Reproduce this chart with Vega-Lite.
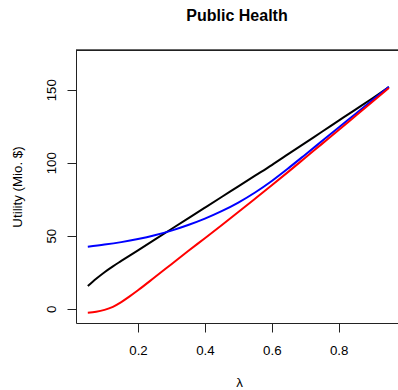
{
  "$schema": "https://vega.github.io/schema/vega-lite/v6.json",
  "width": 322,
  "height": 273,
  "autosize": {"type": "none"},
  "padding": {"left": 76, "top": 50, "right": 0, "bottom": 67},
  "background": "white",
  "config": {
    "view": {"stroke": null},
    "font": "Liberation Sans",
    "axis": {"grid": false, "domainColor": "#222222", "tickColor": "#222222", "labelColor": "black", "titleColor": "black", "labelFont": "Liberation Sans", "titleFont": "Liberation Sans", "labelFontSize": 13.3, "titleFontSize": 13.3, "titleFontWeight": "normal", "tickSize": 9, "domainWidth": 1, "tickWidth": 1}
  },
  "title": {"text": "Public Health", "font": "Liberation Sans", "fontSize": 16, "fontWeight": "bold", "color": "black", "anchor": "middle", "offset": 26},
  "data": {"values": [
    {"lambda": 0.05, "utility": 15.5, "series": "black"},
    {"lambda": 0.075, "utility": 20.5, "series": "black"},
    {"lambda": 0.1, "utility": 25.0, "series": "black"},
    {"lambda": 0.125, "utility": 29.0, "series": "black"},
    {"lambda": 0.15, "utility": 32.7, "series": "black"},
    {"lambda": 0.2, "utility": 40.0, "series": "black"},
    {"lambda": 0.25, "utility": 47.3, "series": "black"},
    {"lambda": 0.3, "utility": 54.6, "series": "black"},
    {"lambda": 0.35, "utility": 61.9, "series": "black"},
    {"lambda": 0.4, "utility": 69.2, "series": "black"},
    {"lambda": 0.45, "utility": 76.5, "series": "black"},
    {"lambda": 0.5, "utility": 83.8, "series": "black"},
    {"lambda": 0.55, "utility": 91.1, "series": "black"},
    {"lambda": 0.6, "utility": 98.4, "series": "black"},
    {"lambda": 0.65, "utility": 106.0, "series": "black"},
    {"lambda": 0.7, "utility": 113.6, "series": "black"},
    {"lambda": 0.75, "utility": 121.2, "series": "black"},
    {"lambda": 0.8, "utility": 128.8, "series": "black"},
    {"lambda": 0.85, "utility": 136.4, "series": "black"},
    {"lambda": 0.9, "utility": 144.0, "series": "black"},
    {"lambda": 0.95, "utility": 151.8, "series": "black"},
    {"lambda": 0.05, "utility": 42.5, "series": "blue"},
    {"lambda": 0.1, "utility": 43.9, "series": "blue"},
    {"lambda": 0.15, "utility": 45.6, "series": "blue"},
    {"lambda": 0.2, "utility": 47.7, "series": "blue"},
    {"lambda": 0.25, "utility": 50.3, "series": "blue"},
    {"lambda": 0.3, "utility": 53.5, "series": "blue"},
    {"lambda": 0.35, "utility": 57.3, "series": "blue"},
    {"lambda": 0.4, "utility": 61.7, "series": "blue"},
    {"lambda": 0.45, "utility": 66.8, "series": "blue"},
    {"lambda": 0.5, "utility": 72.7, "series": "blue"},
    {"lambda": 0.55, "utility": 79.6, "series": "blue"},
    {"lambda": 0.6, "utility": 87.5, "series": "blue"},
    {"lambda": 0.65, "utility": 96.3, "series": "blue"},
    {"lambda": 0.7, "utility": 105.5, "series": "blue"},
    {"lambda": 0.75, "utility": 114.8, "series": "blue"},
    {"lambda": 0.8, "utility": 124.1, "series": "blue"},
    {"lambda": 0.85, "utility": 133.4, "series": "blue"},
    {"lambda": 0.9, "utility": 142.7, "series": "blue"},
    {"lambda": 0.95, "utility": 152.0, "series": "blue"},
    {"lambda": 0.05, "utility": -2.7, "series": "red"},
    {"lambda": 0.075, "utility": -2.1, "series": "red"},
    {"lambda": 0.1, "utility": -0.8, "series": "red"},
    {"lambda": 0.125, "utility": 1.3, "series": "red"},
    {"lambda": 0.15, "utility": 4.5, "series": "red"},
    {"lambda": 0.175, "utility": 8.4, "series": "red"},
    {"lambda": 0.2, "utility": 12.6, "series": "red"},
    {"lambda": 0.25, "utility": 21.5, "series": "red"},
    {"lambda": 0.3, "utility": 30.5, "series": "red"},
    {"lambda": 0.35, "utility": 39.5, "series": "red"},
    {"lambda": 0.4, "utility": 48.3, "series": "red"},
    {"lambda": 0.45, "utility": 57.2, "series": "red"},
    {"lambda": 0.5, "utility": 66.2, "series": "red"},
    {"lambda": 0.55, "utility": 75.3, "series": "red"},
    {"lambda": 0.6, "utility": 84.5, "series": "red"},
    {"lambda": 0.65, "utility": 93.9, "series": "red"},
    {"lambda": 0.7, "utility": 103.4, "series": "red"},
    {"lambda": 0.75, "utility": 112.9, "series": "red"},
    {"lambda": 0.8, "utility": 122.4, "series": "red"},
    {"lambda": 0.85, "utility": 132.0, "series": "red"},
    {"lambda": 0.9, "utility": 141.6, "series": "red"},
    {"lambda": 0.95, "utility": 151.2, "series": "red"}
  ]},
  "layer": [
    {
      "mark": {"type": "line", "strokeWidth": 2, "interpolate": "monotone"},
      "encoding": {
        "x": {"field": "lambda", "type": "quantitative", "scale": {"domain": [0.0147, 0.9773], "nice": false, "zero": false},
              "axis": {"title": "λ", "values": [0.2, 0.4, 0.6, 0.8], "format": ".1f", "labelBaseline": "alphabetic", "labelPadding": 22, "titleBaseline": "alphabetic", "titleY": 63, "titleX": 163}},
        "y": {"field": "utility", "type": "quantitative", "scale": {"domain": [-9.8, 177.2], "nice": false, "zero": false},
              "axis": {"title": "Utility (Mio. $)", "values": [0, 50, 100, 150], "format": "d", "labelAngle": -90, "labelAlign": "center", "labelBaseline": "alphabetic", "labelPadding": 12, "titleAngle": -90, "titleAlign": "center", "titleBaseline": "alphabetic", "titleX": -55, "titleY": 136.5}},
        "color": {"field": "series", "type": "nominal", "scale": {"domain": ["black", "blue", "red"], "range": ["#000000", "#0000ff", "#ff0000"]}, "legend": null}
      }
    },
    {
      "mark": {"type": "rule", "color": "#222222", "strokeWidth": 1},
      "encoding": {"y": {"datum": 176.86}}
    }
  ]
}
